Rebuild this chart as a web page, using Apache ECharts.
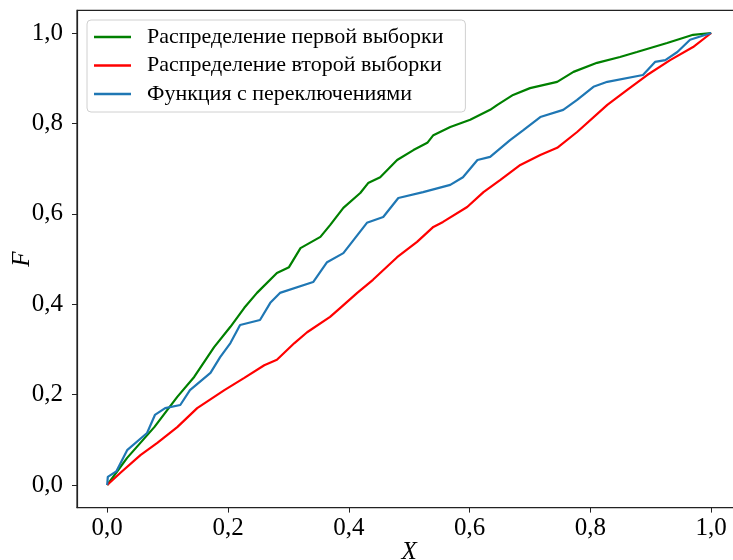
<!DOCTYPE html>
<html>
<head>
<meta charset="utf-8">
<script src="https://cdn.jsdelivr.net/npm/echarts@6/dist/echarts.min.js"></script>
<style>
  html, body { margin: 0; padding: 0; background: #fff; }
  #chart { width: 733px; height: 560px; }
</style>
</head>
<body>
<div id="chart"></div>
<script>
// Распределение первой выборки (зелёная)
const firstX = [0, 0.033, 0.078, 0.116, 0.144, 0.177, 0.204, 0.227, 0.248, 0.281, 0.301, 0.320, 0.353, 0.369, 0.391, 0.419, 0.432, 0.452, 0.480, 0.507, 0.530, 0.540, 0.568, 0.601, 0.634, 0.646, 0.672, 0.700, 0.745, 0.772, 0.811, 0.849, 0.877, 0.927, 0.970, 1.0]
const firstF = [0, 0.060, 0.128, 0.195, 0.239, 0.305, 0.350, 0.392, 0.425, 0.469, 0.482, 0.524, 0.549, 0.575, 0.613, 0.646, 0.668, 0.681, 0.719, 0.741, 0.757, 0.774, 0.792, 0.808, 0.830, 0.841, 0.863, 0.878, 0.892, 0.914, 0.934, 0.947, 0.958, 0.978, 0.996, 1.0]

// Распределение второй выборки (красная)
const secondX = [0, 0.022, 0.055, 0.083, 0.116, 0.149, 0.194, 0.227, 0.260, 0.281, 0.310, 0.331, 0.369, 0.386, 0.414, 0.440, 0.480, 0.513, 0.540, 0.556, 0.596, 0.623, 0.651, 0.684, 0.717, 0.745, 0.778, 0.828, 0.861, 0.894, 0.932, 0.970, 1.0]
const secondF = [0, 0.027, 0.066, 0.093, 0.128, 0.170, 0.210, 0.237, 0.265, 0.277, 0.314, 0.338, 0.372, 0.392, 0.425, 0.454, 0.504, 0.538, 0.571, 0.582, 0.615, 0.648, 0.675, 0.708, 0.730, 0.746, 0.781, 0.841, 0.874, 0.907, 0.940, 0.969, 1.0]

// Функция с переключениями (синяя)
const switchX = [0, 0.001, 0.015, 0.033, 0.066, 0.079, 0.096, 0.121, 0.137, 0.171, 0.187, 0.204, 0.220, 0.253, 0.270, 0.286, 0.341, 0.364, 0.391, 0.430, 0.457, 0.482, 0.523, 0.568, 0.589, 0.613, 0.634, 0.667, 0.689, 0.717, 0.755, 0.778, 0.805, 0.828, 0.887, 0.907, 0.924, 0.944, 0.965, 1.0]
const switchF = [0, 0.018, 0.030, 0.077, 0.115, 0.155, 0.170, 0.177, 0.210, 0.248, 0.283, 0.314, 0.354, 0.365, 0.403, 0.425, 0.449, 0.493, 0.513, 0.580, 0.593, 0.635, 0.648, 0.664, 0.681, 0.719, 0.726, 0.763, 0.785, 0.814, 0.830, 0.852, 0.881, 0.892, 0.907, 0.936, 0.940, 0.958, 0.985, 1.0]

const tickValues = [0, 0.2, 0.4, 0.6, 0.8, 1.0]

const seriesNames = ['Распределение первой выборки', 'Распределение второй выборки', 'Функция с переключениями']
const seriesColors = ['#008000', '#ff0000', '#1f77b4']

const pairs = (xs, ys) => xs.map((x, i) => [x, ys[i]])
const fmt = v => v.toFixed(1).replace('.', ',')
const serif = '"Liberation Serif", "DejaVu Serif", serif'

const chart = echarts.init(document.getElementById('chart'))

const makeLine = (name, data, color) => ({
  name: name,
  type: 'line',
  data: data,
  showSymbol: false,
  symbol: 'none',
  lineStyle: { color: color, width: 2.2 },
  itemStyle: { color: color },
  animation: false
})

chart.setOption({
  backgroundColor: '#fff',
  animation: false,
  grid: {
    left: 77,
    top: 10.4,
    width: 664.4,
    height: 497.2,
    containLabel: false,
    outerBoundsMode: 'none',
    show: true,
    borderColor: '#222',
    borderWidth: 1.2
  },
  legend: {
    orient: 'vertical',
    left: 87,
    top: 20,
    padding: [6, 22, 7, 7],
    itemGap: 6.5,
    itemWidth: 37,
    itemHeight: 2.5,
    icon: 'rect',
    borderColor: '#d0d0d0',
    borderWidth: 1,
    borderRadius: 4,
    backgroundColor: 'rgba(255,255,255,0.8)',
    textStyle: {
      fontFamily: serif,
      fontSize: 22,
      lineHeight: 21,
      color: '#000',
      padding: [0, 0, 0, 11]
    },
    data: seriesNames
  },
  xAxis: {
    type: 'value',
    min: -0.05,
    max: 1.05,
    name: 'X',
    nameLocation: 'middle',
    nameGap: 32,
    nameMoveOverlap: false,
    nameTextStyle: { fontFamily: serif, fontStyle: 'italic', fontSize: 25, color: '#000' },
    axisLine: { show: true, onZero: false, lineStyle: { color: '#222', width: 1.2 } },
    axisTick: { show: true, customValues: tickValues, length: 5, lineStyle: { color: '#222' } },
    axisLabel: { customValues: tickValues, formatter: fmt, fontFamily: serif, fontSize: 25, color: '#000', margin: 8 },
    splitLine: { show: false }
  },
  yAxis: {
    type: 'value',
    min: -0.05,
    max: 1.05,
    name: 'F',
    nameLocation: 'middle',
    nameGap: 42,
    nameRotate: 90,
    nameMoveOverlap: false,
    nameTextStyle: { fontFamily: serif, fontStyle: 'italic', fontSize: 25, color: '#000' },
    axisLine: { show: true, onZero: false, lineStyle: { color: '#222', width: 1.2 } },
    axisTick: { show: true, customValues: tickValues, length: 5, lineStyle: { color: '#222' } },
    axisLabel: { customValues: tickValues, formatter: fmt, fontFamily: serif, fontSize: 25, color: '#000', margin: 14 },
    splitLine: { show: false }
  },
  series: [
    makeLine(seriesNames[0], pairs(firstX, firstF), seriesColors[0]),
    makeLine(seriesNames[1], pairs(secondX, secondF), seriesColors[1]),
    makeLine(seriesNames[2], pairs(switchX, switchF), seriesColors[2])
  ]
})
</script>
</body>
</html>
